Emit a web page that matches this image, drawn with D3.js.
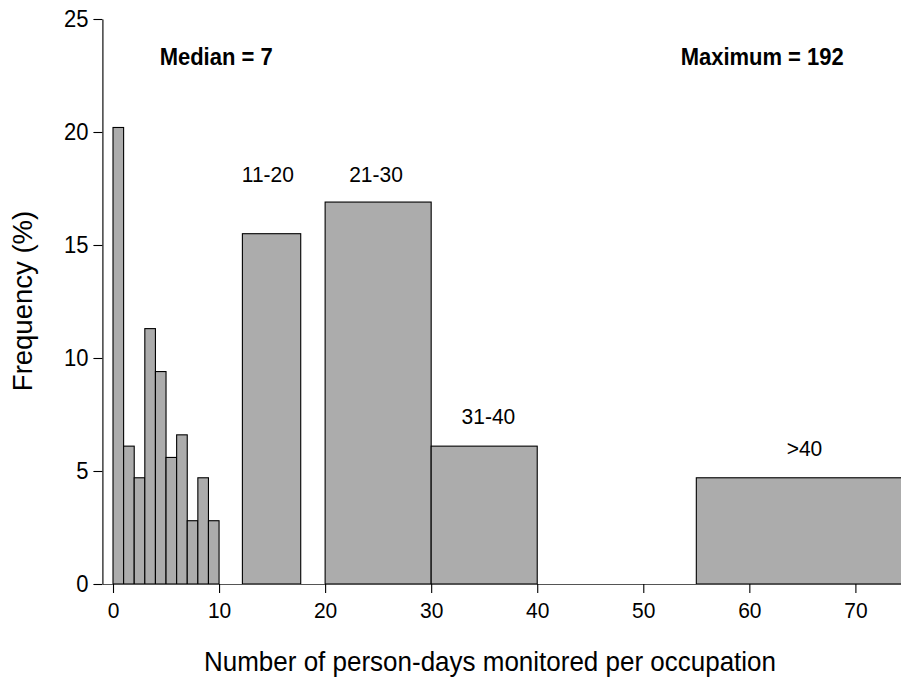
<!DOCTYPE html>
<html>
<head>
<meta charset="utf-8">
<script src="https://cdn.jsdelivr.net/npm/d3@7"></script>
<style>
  html, body { margin: 0; padding: 0; background: #fff; }
  svg { display: block; font-family: Arial, "Liberation Sans", sans-serif; }
  .tall { transform-box: fill-box; transform-origin: center; transform: scaleY(1.08); }
</style>
</head>
<body>
<svg id="chart" width="901" height="679"></svg>
<script>
// ---- data ----
const binStart = [0, 1, 2, 3, 4, 5, 6, 7, 8, 9, 12.2, 20, 30, 55];
const binEnd   = [1, 2, 3, 4, 5, 6, 7, 8, 9, 10, 17.7, 30, 40, 76];
const frequency = [20.2, 6.1, 4.7, 11.3, 9.4, 5.6, 6.6, 2.8, 4.7, 2.8, 15.5, 16.9, 6.1, 4.7];

const groupLabels = ["11-20", "21-30", "31-40", ">40"];
const groupLabelX = [14.6, 24.8, 35.4, 65.2];
const groupLabelY = [17.8, 17.8, 7.1, 5.7];

const xTicks = [0, 10, 20, 30, 40, 50, 60, 70];
const yTicks = [0, 5, 10, 15, 20, 25];

const medianText = "Median = 7";
const maximumText = "Maximum = 192";
const xTitle = "Number of person-days monitored per occupation";
const yTitle = "Frequency (%)";

// ---- layout ----
const svg = d3.select("#chart");
const x = d3.scaleLinear().domain([-1, 74.3]).range([102.4, 901]);
const y = d3.scaleLinear().domain([0, 25]).range([584, 19]);

const bins = binStart.map((s, i) => ({ s, e: binEnd[i], v: frequency[i] }));

// bars
svg.append("g").selectAll("rect").data(bins).join("rect")
  .attr("x", d => x(d.s))
  .attr("y", d => y(d.v))
  .attr("width", d => x(d.e) - x(d.s))
  .attr("height", d => y(0) - y(d.v))
  .attr("fill", "#acacac")
  .attr("stroke", "#000")
  .attr("stroke-width", 1.1);

// x axis
const xAxis = svg.append("g")
  .attr("transform", `translate(0,${y(0)})`)
  .call(d3.axisBottom(x).tickValues(xTicks).tickSize(9).tickPadding(10).tickSizeOuter(0));
xAxis.select(".domain").attr("stroke", "#555").attr("stroke-width", 1.2);
xAxis.selectAll(".tick line").attr("stroke", "#000").attr("stroke-width", 1.1);
xAxis.selectAll(".tick text").attr("font-size", 21).attr("fill", "#000")
  .attr("font-family", "Arial, 'Liberation Sans', sans-serif").classed("tall", true);

// y axis
const yAxis = svg.append("g")
  .attr("transform", `translate(${x(-1)},0)`)
  .call(d3.axisLeft(y).tickValues(yTicks).tickSize(9).tickPadding(5).tickSizeOuter(0));
yAxis.select(".domain").attr("stroke", "#111").attr("stroke-width", 1.2);
yAxis.selectAll(".tick line").attr("stroke", "#000").attr("stroke-width", 1.1);
yAxis.selectAll(".tick text").attr("font-size", 22).attr("fill", "#000")
  .attr("font-family", "Arial, 'Liberation Sans', sans-serif").classed("tall", true);

// group labels
svg.append("g").selectAll("text").data(groupLabels).join("text")
  .attr("x", (d, i) => x(groupLabelX[i]))
  .attr("y", (d, i) => y(groupLabelY[i]))
  .attr("text-anchor", "middle")
  .attr("font-size", 21)
  .attr("fill", "#000")
  .classed("tall", true)
  .text(d => d);

// annotations
svg.append("text")
  .attr("x", x(4.4)).attr("y", y(23))
  .attr("font-size", 22).attr("font-weight", "bold").attr("fill", "#000")
  .classed("tall", true)
  .text(medianText);
svg.append("text")
  .attr("x", x(68.9)).attr("y", y(23))
  .attr("text-anchor", "end")
  .attr("font-size", 22).attr("font-weight", "bold").attr("fill", "#000")
  .classed("tall", true)
  .text(maximumText);

// axis titles
svg.append("text")
  .attr("x", 490).attr("y", 670)
  .attr("text-anchor", "middle")
  .attr("font-size", 26).attr("fill", "#000")
  .classed("tall", true)
  .text(xTitle);
svg.append("text")
  .attr("transform", "translate(32,301) rotate(-90)")
  .attr("text-anchor", "middle")
  .attr("font-size", 27.5).attr("fill", "#000")
  .text(yTitle);
</script>
</body>
</html>
